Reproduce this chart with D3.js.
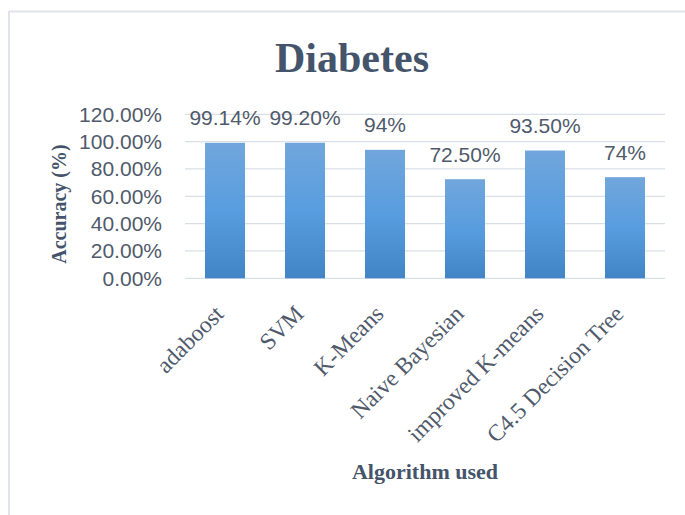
<!DOCTYPE html>
<html>
<head>
<meta charset="utf-8">
<script src="https://cdn.jsdelivr.net/npm/d3@7"></script>
<style>
  html, body { margin: 0; padding: 0; background: #fff; }
  svg { display: block; }
</style>
</head>
<body>
<script>
// Accuracy of each algorithm on the diabetes dataset
const categories = ["adaboost", "SVM", "K-Means", "Naive Bayesian", "improved K-means", "C4.5 Decision Tree"];
const accuracy = [99.14, 99.20, 94, 72.50, 93.50, 74];
const valueLabels = ["99.14%", "99.20%", "94%", "72.50%", "93.50%", "74%"];
const yTicks = [0, 20, 40, 60, 80, 100, 120];

const W = 685, H = 515;
const textColor = "#4f5a6b";
const titleColor = "#44546a";

const svg = d3.select("body").append("svg")
  .attr("width", W).attr("height", H);

// chart frame (top and left edges visible)
svg.append("line").attr("x1", 9).attr("x2", W).attr("y1", 11.5).attr("y2", 11.5)
  .attr("stroke", "#dfe3ea").attr("stroke-width", 2);
svg.append("line").attr("x1", 9).attr("x2", 9).attr("y1", 11).attr("y2", H)
  .attr("stroke", "#dfe3ea").attr("stroke-width", 2);

const x = d3.scaleBand().domain(categories).range([185, 665]).paddingInner(0.5).paddingOuter(0.25);
const y = d3.scaleLinear().domain([0, 120]).range([278.3, 114.3]);

// bar fill gradient
const defs = svg.append("defs");
const grad = defs.append("linearGradient").attr("id", "barGrad")
  .attr("x1", 0).attr("y1", 0).attr("x2", 0).attr("y2", 1);
grad.append("stop").attr("offset", "0%").attr("stop-color", "#71a6dc");
grad.append("stop").attr("offset", "50%").attr("stop-color", "#589ddf");
grad.append("stop").attr("offset", "100%").attr("stop-color", "#4285c6");

// title
svg.append("text")
  .attr("x", 352).attr("y", 72)
  .attr("text-anchor", "middle")
  .attr("font-family", "'Liberation Serif', 'Times New Roman', serif")
  .attr("font-weight", "bold")
  .attr("font-size", 42)
  .attr("fill", titleColor)
  .text("Diabetes");

// gridlines
svg.append("g").selectAll("line").data(yTicks).join("line")
  .attr("x1", 185).attr("x2", 665)
  .attr("y1", d => y(d)).attr("y2", d => y(d))
  .attr("stroke", "#d9dfe8").attr("stroke-width", 1.3);

// y axis tick labels
const yAxis = d3.axisLeft(y).tickValues(yTicks).tickSize(0).tickPadding(0)
  .tickFormat(d => d.toFixed(2) + "%");
const gy = svg.append("g").attr("transform", "translate(162,0)").call(yAxis);
gy.select(".domain").remove();
gy.selectAll("text")
  .attr("font-family", "'Liberation Sans', Arial, sans-serif")
  .attr("font-size", 21)
  .attr("fill", textColor);

// bars
svg.append("g").selectAll("rect").data(categories).join("rect")
  .attr("x", d => x(d))
  .attr("width", x.bandwidth())
  .attr("y", (d, i) => y(accuracy[i]))
  .attr("height", (d, i) => y(0) - y(accuracy[i]))
  .attr("fill", "url(#barGrad)");

// value labels
svg.append("g").selectAll("text").data(categories).join("text")
  .attr("x", d => x(d) + x.bandwidth() / 2)
  .attr("y", (d, i) => y(accuracy[i]) - 17.5)
  .attr("text-anchor", "middle")
  .attr("font-family", "'Liberation Sans', Arial, sans-serif")
  .attr("font-size", 21)
  .attr("fill", textColor)
  .text((d, i) => valueLabels[i]);

// category labels, rotated
const xAxis = d3.axisBottom(x).tickSize(0).tickPadding(0);
const gx = svg.append("g").attr("transform", "translate(0,278.3)").call(xAxis);
gx.select(".domain").remove();
gx.selectAll("text")
  .attr("font-family", "'Liberation Serif', 'Times New Roman', serif")
  .attr("font-size", 23.5)
  .attr("fill", textColor)
  .attr("text-anchor", "end")
  .attr("dy", 0)
  .attr("y", 0)
  .attr("transform", "translate(0,37) rotate(-45)");

// axis titles
svg.append("text")
  .attr("transform", "translate(66,204) rotate(-90)")
  .attr("text-anchor", "middle")
  .attr("font-family", "'Liberation Serif', 'Times New Roman', serif")
  .attr("font-weight", "bold")
  .attr("font-size", 20)
  .attr("fill", titleColor)
  .text("Accuracy (%)");

svg.append("text")
  .attr("x", 425).attr("y", 479)
  .attr("text-anchor", "middle")
  .attr("font-family", "'Liberation Serif', 'Times New Roman', serif")
  .attr("font-weight", "bold")
  .attr("font-size", 22)
  .attr("fill", titleColor)
  .text("Algorithm used");
</script>
</body>
</html>
